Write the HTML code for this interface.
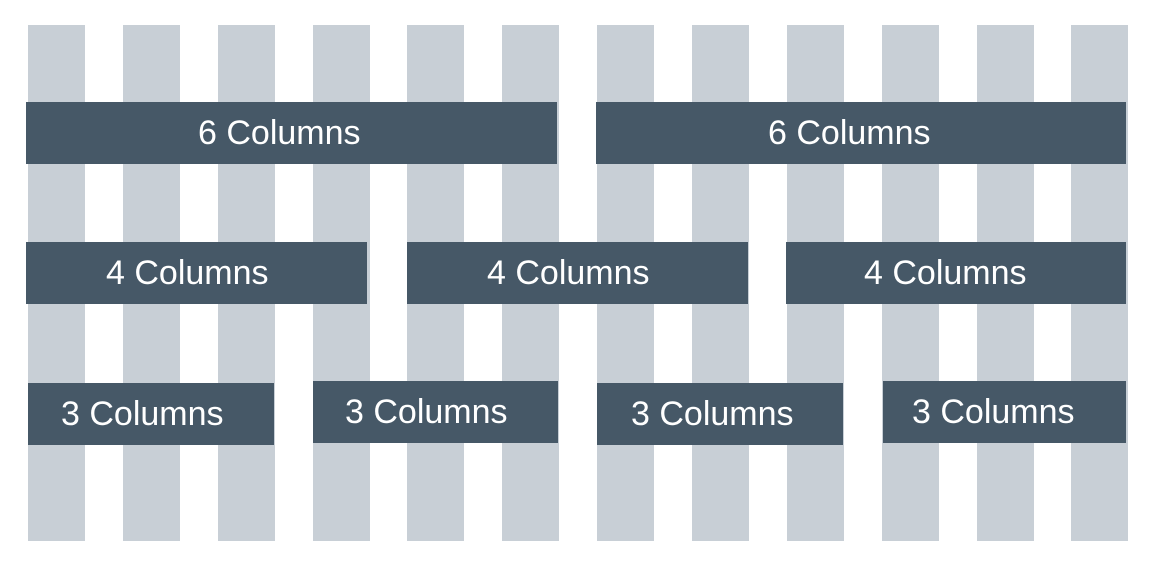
<!DOCTYPE html>
<html><head><style>
body{margin:0;width:1152px;height:565px;background:#fff;position:relative;overflow:hidden;font-family:"Liberation Sans",Arial,sans-serif}
.c{position:absolute;top:25px;height:516px;width:57px;background:#c8cfd6}
.b{position:absolute;background:#465867;color:#fff;font-size:34px;line-height:62px;height:62px;white-space:nowrap}
.b span{position:absolute;top:0}
</style></head><body>
<div class="c" style="left:28px"></div>
<div class="c" style="left:123px"></div>
<div class="c" style="left:218px"></div>
<div class="c" style="left:313px"></div>
<div class="c" style="left:407px"></div>
<div class="c" style="left:502px"></div>
<div class="c" style="left:597px"></div>
<div class="c" style="left:692px"></div>
<div class="c" style="left:787px"></div>
<div class="c" style="left:882px"></div>
<div class="c" style="left:977px"></div>
<div class="c" style="left:1071px"></div>

<div class="b" style="left:26px;top:102px;width:531px"><span style="left:172px">6 Columns</span></div>
<div class="b" style="left:596px;top:102px;width:530px"><span style="left:172px">6 Columns</span></div>

<div class="b" style="left:26px;top:242px;width:341px"><span style="left:80px">4 Columns</span></div>
<div class="b" style="left:407px;top:242px;width:341px"><span style="left:80px">4 Columns</span></div>
<div class="b" style="left:786px;top:242px;width:340px"><span style="left:78px">4 Columns</span></div>

<div class="b" style="left:28px;top:383px;width:246px"><span style="left:33px">3 Columns</span></div>
<div class="b" style="left:313px;top:381px;width:245px"><span style="left:32px">3 Columns</span></div>
<div class="b" style="left:597px;top:383px;width:246px"><span style="left:34px">3 Columns</span></div>
<div class="b" style="left:883px;top:381px;width:243px"><span style="left:29px">3 Columns</span></div>
</body></html>
